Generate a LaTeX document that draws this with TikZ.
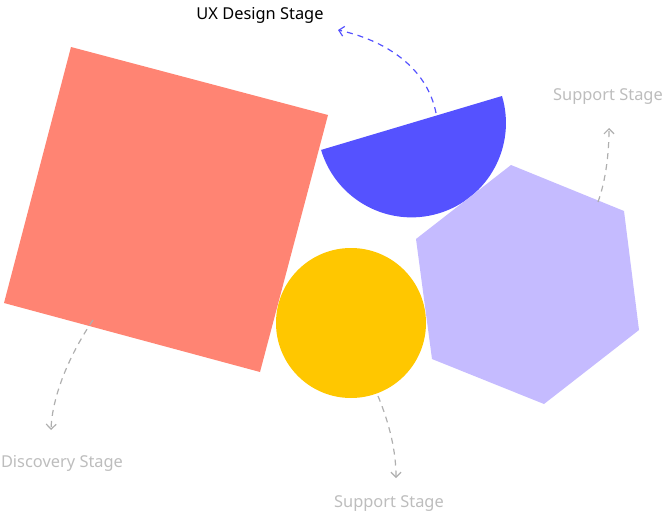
\documentclass[tikz,border=0pt]{standalone}
\usepackage{fontspec}
\setmainfont{Noto Sans}
\usetikzlibrary{arrows.meta}
\definecolor{cred}{HTML}{FF8473}
\definecolor{cblue}{HTML}{5552FF}
\definecolor{cyellow}{HTML}{FFC700}
\definecolor{clav}{HTML}{C5BBFF}
\definecolor{cgrey}{HTML}{BDBDBD}
\definecolor{cline}{HTML}{AFAFAF}
\tikzset{
  lbl/.style={font=\fontsize{16.4}{18}\selectfont, inner sep=0pt},
  conn/.style={dashed, dash pattern=on 6pt off 5pt, line width=1.2pt,
    -{Straight Barb[length=5pt,width=10pt,line width=1.2pt]}},
}
\begin{document}
\begin{tikzpicture}[x=1pt,y=-1pt]
\useasboundingbox (0,0) rectangle (665,514);
% shapes
\fill[cred] (71,47) -- (328,115) -- (260,372) -- (4,303) -- cycle;
\fill[cblue] (502,96) arc[start angle=-16.6, end angle=163.4, radius=94.4] -- cycle;
\fill[clav] (511,165) -- (624,211) -- (639,330) -- (544,404) -- (432,359) -- (416,239) -- cycle;
\fill[cyellow] (351,323) circle[radius=75];
% labels
\node[lbl, text=black] (ux) at (260,15) {UX Design Stage};
\node[lbl, text=cgrey] (sup1) at (608,97) {Support Stage};
\node[lbl, text=cgrey] (disc) at (62,463) {Discovery Stage};
\node[lbl, text=cgrey] (sup2) at (389,504) {Support Stage};
% connector ends
\coordinate (uxs) at (436,113);
\coordinate (uxe) at (338,30);
\coordinate (s1s) at (598,202);
\coordinate (s1e) at (609,128);
\coordinate (ds) at (93,320);
\coordinate (de) at (51,430);
\coordinate (s2s) at (378,396);
\coordinate (s2e) at (396,478);
% connectors
\draw[conn, cblue] (uxs) .. controls (428,72) and (392,42) .. (uxe);
\draw[conn, cline] (s1s) .. controls (606,180) and (609,152) .. (s1e);
\draw[conn, cline] (ds) .. controls (66,360) and (52,400) .. (de);
\draw[conn, cline] (s2s) .. controls (390,425) and (396,452) .. (s2e);
\end{tikzpicture}
\end{document}
